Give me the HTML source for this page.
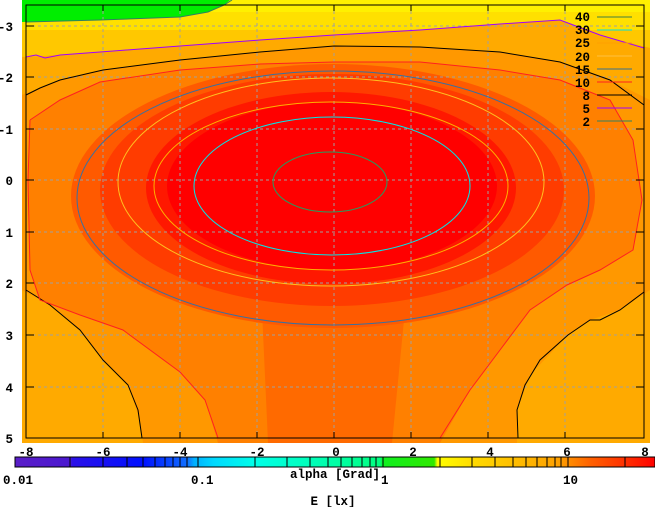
<!DOCTYPE html>
<html><head><meta charset="utf-8"><style>
html,body{margin:0;padding:0;background:#fff;width:655px;height:507px;overflow:hidden}
svg{display:block}
text{font-family:"Liberation Mono","DejaVu Sans Mono",monospace;font-weight:bold;font-size:12.5px;fill:#000}
</style></head><body>
<svg width="655" height="507" viewBox="0 0 655 507" xmlns="http://www.w3.org/2000/svg">
<defs>
<linearGradient id="cb" x1="0" x2="1" y1="0" y2="0">
<stop offset="0" stop-color="#5a1ec8"/>
<stop offset="0.086" stop-color="#4a18d0"/>
<stop offset="0.09" stop-color="#2a10e8"/>
<stop offset="0.2" stop-color="#0010ff"/>
<stop offset="0.27" stop-color="#1070ff"/>
<stop offset="0.28" stop-color="#00b0ff"/>
<stop offset="0.31" stop-color="#00d8ff"/>
<stop offset="0.375" stop-color="#00ffe8"/>
<stop offset="0.45" stop-color="#00ffc0"/>
<stop offset="0.57" stop-color="#00ff80"/>
<stop offset="0.575" stop-color="#10f020"/>
<stop offset="0.655" stop-color="#30e800"/>
<stop offset="0.66" stop-color="#ffff00"/>
<stop offset="0.72" stop-color="#ffd800"/>
<stop offset="0.85" stop-color="#ffa000"/>
<stop offset="0.9" stop-color="#ff6000"/>
<stop offset="0.97" stop-color="#ff2000"/>
<stop offset="1" stop-color="#ff0000"/>
</linearGradient>
</defs>
<rect x="22" y="0" width="628" height="443" fill="#ffb000"/>
<rect x="22" y="0" width="628" height="60" fill="#ffc800"/>
<rect x="22" y="0" width="628" height="30" fill="#ffe000"/>
<rect x="22" y="0" width="628" height="12" fill="#fff000"/>
<path d="M22,0 L230,0 L224,5 L208,12 L180,17 L100,20 L22,22 Z" fill="#00ee00"/>
<path d="M22,57 L60,55 L100,52 L180,46 L260,40 L334,35 L420,30 L500,24 L560,20 L600,35 L650,48 L650,443 L22,443 Z" fill="#ffaa00"/>
<path d="M22,95 L60,80 L103,70 L180,60 L260,52 L334,46 L420,47 L500,52 L560,62 L610,80 L650,100 L650,290 L620,310 L590,320 L568,335 L530,375 L517,410 L517,443 L143,443 L140,420 L128,385 L103,360 L80,330 L50,305 L22,290 Z" fill="#ff9800"/>
<path d="M30,120 L60,100 L100,82 L180,70 L260,64 L334,62 L420,62 L500,70 L560,80 L610,100 L633,140 L642,200 L633,250 L600,270 L567,285 L530,310 L500,350 L470,390 L440,443 L218,443 L205,400 L180,372 L123,330 L80,315 L40,300 L30,270 L28,180 Z" fill="#ff8000"/>
<path d="M262,310 L405,310 L392,443 L268,443 Z" fill="#ff6a00"/>
<ellipse cx="333" cy="196" rx="262" ry="132" fill="#ff5a00"/>
<ellipse cx="332" cy="190" rx="232" ry="116" fill="#ff3c00"/>
<ellipse cx="331" cy="188" rx="185" ry="96" fill="#ff1800"/>
<ellipse cx="332" cy="186" rx="165" ry="84" fill="#ff0000"/>
<g stroke="#a0a0a0" stroke-width="1" stroke-dasharray="3,3" fill="none">
<path d="M103,5V438M180,5V438M257,5V438M334,5V438M411,5V438M488,5V438M565,5V438"/>
<path d="M26,26H644M26,77H644M26,129H644M26,180H644M26,232H644M26,283H644M26,335H644M26,387H644"/>
</g>
<g fill="none" stroke-width="1">
<path d="M26,22 L100,20 L180,17 L208,12 L224,5 L232,0" stroke="#308060"/>
<path d="M26,57 L36,55 L45,58 L60,55 L100,52 L180,46 L260,40 L334,35 L420,30 L500,24 L560,20 L600,35 L644,48" stroke="#a000ff"/>
<path d="M26,95 L40,88 L60,80 L103,70 L180,60 L260,52 L334,46 L420,47 L500,52 L560,62 L610,80 L644,105" stroke="#000"/>
<path d="M26,290 L50,305 L80,330 L103,360 L128,385 L138,410 L142,438" stroke="#000"/>
<path d="M644,292 L620,310 L600,320 L590,320 L568,335 L540,360 L525,385 L517,410 L518,438" stroke="#000"/>
<path d="M30,120 L60,100 L100,82 L180,70 L260,64 L334,62 L420,62 L500,70 L560,80 L610,100 L633,140 L642,200 L633,250 L600,270 L567,285 L530,310 L500,350 L470,390 L440,438" stroke="#ff2020"/>
<path d="M30,120 L28,180 L30,270 L40,300 L80,315 L123,330 L180,372 L205,400 L218,438" stroke="#ff2020"/>
<ellipse cx="333" cy="198" rx="256" ry="127" stroke="#3a70a0"/>
<ellipse cx="331" cy="182" rx="213" ry="104" stroke="#ffc020"/>
<ellipse cx="331" cy="186" rx="177" ry="84" stroke="#ffb000"/>
<ellipse cx="332" cy="186" rx="138" ry="69" stroke="#00e8e8"/>
<ellipse cx="330" cy="182" rx="57" ry="30" stroke="#20a060"/>
</g>
<rect x="26" y="5" width="618" height="433" fill="none" stroke="#000" stroke-width="1"/>
<g stroke="#000">
<path d="M103,5v6M180,5v6M257,5v6M334,5v6M411,5v6M488,5v6M565,5v6"/>
<path d="M103,438v-6M180,438v-6M257,438v-6M334,438v-6M411,438v-6M488,438v-6M565,438v-6"/>
<path d="M26,26h8M26,77h8M26,129h8M26,180h8M26,232h8M26,283h8M26,335h8M26,387h8"/>
<path d="M644,26h-8M644,77h-8M644,129h-8M644,180h-8M644,232h-8M644,283h-8M644,335h-8M644,387h-8"/>
</g>
<g text-anchor="end">
<text x="13" y="31">-3</text><text x="13" y="82">-2</text><text x="13" y="134">-1</text>
<text x="13" y="185">0</text><text x="13" y="237">1</text><text x="13" y="288">2</text>
<text x="13" y="340">3</text><text x="13" y="392">4</text><text x="13" y="443">5</text>
</g>
<g text-anchor="end">
<text x="590" y="21">40</text><text x="590" y="34">30</text><text x="590" y="47">25</text>
<text x="590" y="61">20</text><text x="590" y="74">15</text><text x="590" y="87">10</text>
<text x="590" y="100">8</text><text x="590" y="113">5</text><text x="590" y="126">2</text>
</g>
<g stroke-width="1">
<path d="M597,17h35" stroke="#408040"/><path d="M597,30h35" stroke="#00e0e0"/>
<path d="M597,43h35" stroke="#ffa000"/><path d="M597,56h35" stroke="#ffc040"/>
<path d="M597,69h35" stroke="#3a7090"/><path d="M597,82h35" stroke="#ff2020"/>
<path d="M597,95h35" stroke="#000"/><path d="M597,108h35" stroke="#a000ff"/>
<path d="M597,121h35" stroke="#308060"/>
</g>
<g text-anchor="middle">
<text x="26" y="456">-8</text><text x="103" y="456">-6</text><text x="180" y="456">-4</text>
<text x="257" y="456">-2</text><text x="336" y="456">0</text><text x="413" y="456">2</text>
<text x="490" y="456">4</text><text x="567" y="456">6</text><text x="645" y="456">8</text>
</g>
<rect x="15" y="457" width="640" height="10" fill="url(#cb)" stroke="#000"/>
<g stroke="#000">
<path d="M70,457v10M103,457v10M127,457v10M143,457v10M155,457v10M165,457v10M173,457v10M180,457v10M187,457v10M198,457v10"/>
<path d="M255,457v10M287,457v10M310,457v10M328,457v10M341,457v10M352,457v10M362,457v10M370,457v10M376,457v10M383,457v10"/>
<path d="M440,457v10M472,457v10M495,457v10M513,457v10M526,457v10M537,457v10M547,457v10M555,457v10M561,457v10M568,457v10"/>
<path d="M625,457v10"/>
</g>
<text x="3" y="484">0.01</text>
<text x="191" y="484">0.1</text>
<text x="381" y="484">1</text>
<text x="563" y="484">10</text>
<text x="335" y="478" text-anchor="middle">alpha [Grad]</text>
<text x="333" y="505" text-anchor="middle">E [lx]</text>
</svg>
</body></html>
